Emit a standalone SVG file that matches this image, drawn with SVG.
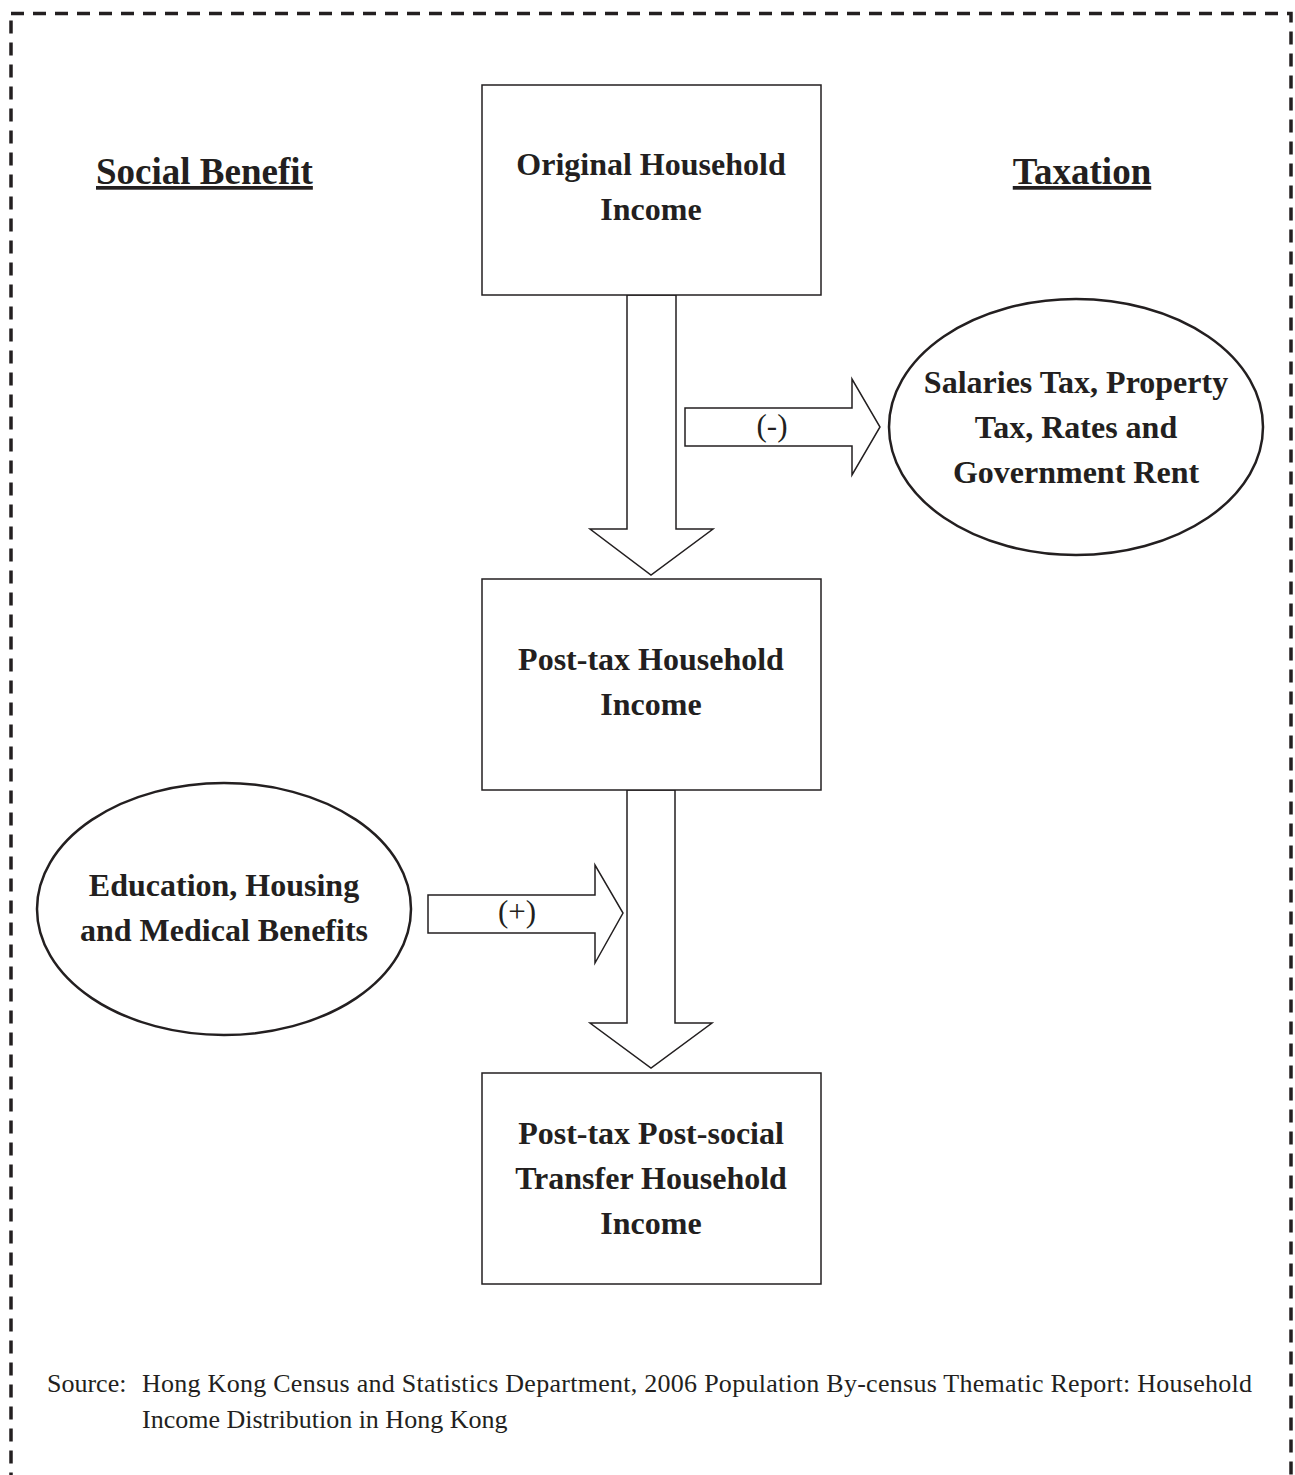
<svg xmlns="http://www.w3.org/2000/svg" width="1295" height="1475" viewBox="0 0 1295 1475">
<style>
.box{fill:#fff;stroke:#231f20;stroke-width:1.5}
.arr{fill:#fff;stroke:#231f20;stroke-width:1.5}
.ell{fill:#fff;stroke:#231f20;stroke-width:2.5}
.b{font-family:"Liberation Serif","Times New Roman",serif;font-weight:bold;font-size:32px;fill:#231f20;text-anchor:middle}
.h{font-family:"Liberation Serif","Times New Roman",serif;font-weight:bold;font-size:37px;fill:#231f20;text-decoration:underline}
.r{font-family:"Liberation Serif","Times New Roman",serif;font-size:26px;fill:#231f20}
.lbl{font-family:"Liberation Serif","Times New Roman",serif;font-size:31px;fill:#231f20;text-anchor:middle}
</style>
<rect x="11" y="13.5" width="1280" height="1480" fill="none" stroke="#231f20" stroke-width="3.5" stroke-dasharray="13 9"/>
<text class="h" x="96" y="184">Social Benefit</text>
<text class="h" x="1082" y="184" text-anchor="middle">Taxation</text>
<g id="connectors">
<polygon class="arr" points="627,295 676,295 676,529 713,529 651,575 590,529 627,529"/>
<polygon class="arr" points="685,408 852,408 852,379 880,427 852,475 852,446 685,446"/>
<text class="lbl" x="772" y="436">(-)</text>
<polygon class="arr" points="627,790 675,790 675,1023 712,1023 651,1068 590,1023 627,1023"/>
<polygon class="arr" points="428,895 595,895 595,865 623,913 595,963 595,933 428,933"/>
<text class="lbl" x="517" y="922">(+)</text>
</g>
<g id="original">
<rect class="box" x="482" y="85" width="339" height="210"/>
<text class="b" x="651" y="175">Original Household</text>
<text class="b" x="651" y="220">Income</text>
</g>
<g id="posttax">
<rect class="box" x="482" y="579" width="339" height="211"/>
<text class="b" x="651" y="670">Post-tax Household</text>
<text class="b" x="651" y="715">Income</text>
</g>
<g id="final">
<rect class="box" x="482" y="1073" width="339" height="211"/>
<text class="b" x="651" y="1144">Post-tax Post-social</text>
<text class="b" x="651" y="1189">Transfer Household</text>
<text class="b" x="651" y="1234">Income</text>
</g>
<g id="taxation">
<ellipse class="ell" cx="1076" cy="427" rx="187" ry="128"/>
<text class="b" x="1076" y="393">Salaries Tax, Property</text>
<text class="b" x="1076" y="438">Tax, Rates and</text>
<text class="b" x="1076" y="483">Government Rent</text>
</g>
<g id="benefits">
<ellipse class="ell" cx="224" cy="909" rx="187" ry="126"/>
<text class="b" x="224" y="896">Education, Housing</text>
<text class="b" x="224" y="941">and Medical Benefits</text>
</g>
<text class="r" x="47" y="1392">Source:</text>
<text class="r" x="142" y="1392" textLength="1110" lengthAdjust="spacing">Hong Kong Census and Statistics Department, 2006 Population By-census Thematic Report: Household</text>
<text class="r" x="142" y="1428">Income Distribution in Hong Kong</text>
</svg>
